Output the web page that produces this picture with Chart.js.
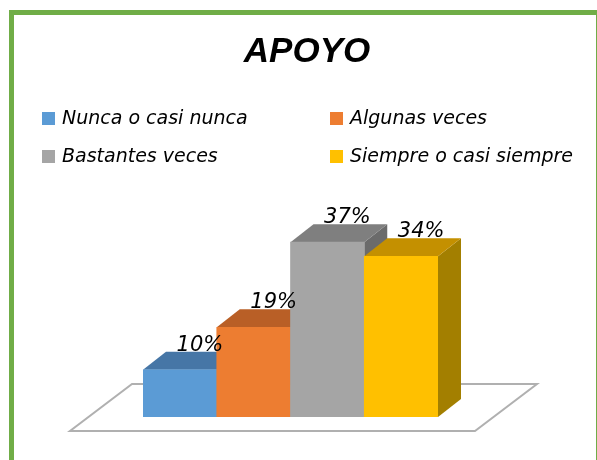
<!DOCTYPE html>
<html>
<head>
<meta charset="utf-8">
<script src="https://cdn.jsdelivr.net/npm/chart.js@4/dist/chart.umd.min.js"></script>
<style>
body { margin: 0; width: 597px; height: 460px; overflow: hidden; background: #fff; position: relative; font-family: "DejaVu Sans", sans-serif; }
.frame { position: absolute; left: 9px; top: 10px; width: 592px; height: 520px; border: 5px solid #70ad47; box-sizing: border-box; }
#myChart { position: absolute; left: 0; top: 0; }
.legend-box { position: absolute; width: 13px; height: 13px; }
.legend-text { position: absolute; font-style: italic; font-size: 19px; line-height: 22px; color: #000; white-space: nowrap; }
</style>
</head>
<body>
<div class="frame"></div>
<canvas id="myChart" width="597" height="460"></canvas>
<div id="legend"></div>
<script>
// Data
const categories = ["Nunca o casi nunca", "Algunas veces", "Bastantes veces", "Siempre o casi siempre"];
const values = [10, 19, 37, 34];
const frontColors = ["#5b9bd5", "#ed7d31", "#a5a5a5", "#ffc000"];
const topColors = ["#4676a6", "#b95f26", "#7f7f7f", "#c49000"];
const sideColors = ["#3a628a", "#9a4f1f", "#6b6b6b", "#a37f00"];

// depth of the fake 3d
const DX = 23;
const DY = -18;

// Legend (two columns, like the excel one)
const legend = document.querySelector("#legend");
categories.forEach((name, i) => {
  const left = 42 + (i % 2) * 288;
  const top = 112 + Math.floor(i / 2) * 38;
  const box = document.createElement("div");
  box.className = "legend-box";
  box.style.left = left + "px";
  box.style.top = top + "px";
  box.style.background = frontColors[i];
  const txt = document.createElement("div");
  txt.className = "legend-text";
  txt.style.left = left + 20 + "px";
  txt.style.top = top - 6 + "px";
  txt.textContent = name;
  legend.appendChild(box);
  legend.appendChild(txt);
});

const bar3d = {
  id: "bar3d",
  afterLayout(chart) {
    // title is centred on the frame, not on the bars
    const t = chart.titleBlock;
    if (t) {
      t.left = 13;
      t.right = 601;
    }
  },
  beforeDatasetsDraw(chart) {
    const ctx = chart.ctx;
    const area = chart.chartArea;
    const y0 = chart.scales.y.getPixelForValue(0);
    ctx.save();
    // floor
    ctx.beginPath();
    ctx.moveTo(area.left - 73, y0 + 14);
    ctx.lineTo(area.right + 37, y0 + 14);
    ctx.lineTo(area.right + 99, y0 - 33);
    ctx.lineTo(area.left - 11, y0 - 33);
    ctx.closePath();
    ctx.fillStyle = "#fff";
    ctx.fill();
    ctx.strokeStyle = "#b0b0b0";
    ctx.lineWidth = 2;
    ctx.stroke();

    const bars = chart.getDatasetMeta(0).data;
    // sides first, then tops, fronts are drawn by chart.js after
    bars.forEach((bar, i) => {
      const r = bar.x + bar.width / 2;
      ctx.beginPath();
      ctx.moveTo(r, bar.y);
      ctx.lineTo(r + DX, bar.y + DY);
      ctx.lineTo(r + DX, bar.base + DY);
      ctx.lineTo(r, bar.base);
      ctx.closePath();
      ctx.fillStyle = sideColors[i];
      ctx.fill();
    });
    bars.forEach((bar, i) => {
      const l = bar.x - bar.width / 2;
      const r = bar.x + bar.width / 2;
      ctx.beginPath();
      ctx.moveTo(l, bar.y);
      ctx.lineTo(r, bar.y);
      ctx.lineTo(r + DX, bar.y + DY);
      ctx.lineTo(l + DX, bar.y + DY);
      ctx.closePath();
      ctx.fillStyle = topColors[i];
      ctx.fill();
    });
    ctx.restore();
  },
  afterDatasetsDraw(chart) {
    const ctx = chart.ctx;
    const bars = chart.getDatasetMeta(0).data;
    ctx.save();
    ctx.font = "italic 21px 'DejaVu Sans'";
    ctx.fillStyle = "#000";
    ctx.textAlign = "center";
    ctx.textBaseline = "alphabetic";
    bars.forEach((bar, i) => {
      ctx.fillText(values[i] + "%", bar.x + 20, bar.y + DY - 1);
    });
    ctx.restore();
  },
};

new Chart("myChart", {
  type: "bar",
  data: {
    labels: categories,
    datasets: [
      {
        data: values,
        backgroundColor: frontColors,
        borderWidth: 0,
        categoryPercentage: 1,
        barPercentage: 1,
      },
    ],
  },
  options: {
    responsive: false,
    animation: false,
    devicePixelRatio: 1,
    layout: {
      padding: { left: 143, right: 159, top: 0, bottom: 43 },
    },
    scales: {
      x: { display: false },
      y: { display: false, min: 0, max: 40 },
    },
    plugins: {
      legend: { display: false },
      tooltip: { enabled: false },
      title: {
        display: true,
        text: "APOYO",
        color: "#000",
        font: { family: "Liberation Sans", size: 35, weight: "bold", style: "italic", lineHeight: 1.2 },
        padding: { top: 31, bottom: 155 },
      },
    },
  },
  plugins: [bar3d],
});
</script>
</body>
</html>
